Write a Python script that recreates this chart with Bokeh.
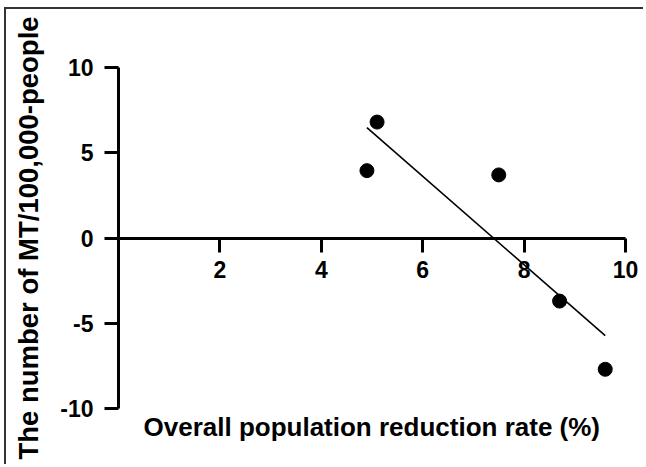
import numpy as np
from bokeh.plotting import figure
from bokeh.models import Range1d, FixedTicker, Title
from bokeh.embed import file_html
from bokeh.resources import INLINE

# Data
reduction_rate = [4.9, 5.1, 7.5, 8.7, 9.6]
mt_per_100k = [3.95, 6.8, 3.7, -3.7, -7.7]
x_ticks = [2, 4, 6, 8, 10]
y_ticks = [-10, -5, 0, 5, 10]
y_tick_labels = ["-10", "-5", "0", "5", "10"]
x_title = "Overall population reduction rate (%)"
y_title = "The number of MT/100,000-people"

FONT = "Liberation Sans"

p = figure(width=639, height=457, output_backend="svg", toolbar_location=None,
           x_range=Range1d(0, 10.335), y_range=Range1d(-10, 10),
           min_border_left=112, min_border_right=3, min_border_top=58, min_border_bottom=58)
p.styles = {"margin-left": "4px", "margin-top": "7px",
            "border-top": "2px solid #333", "border-left": "2px solid #333"}
p.grid.visible = False
p.outline_line_color = None
p.background_fill_color = "white"
p.border_fill_color = "white"

for ax in (p.xaxis[0], p.yaxis[0]):
    ax.axis_line_width = 3
    ax.axis_line_color = "black"
    ax.major_tick_line_width = 3
    ax.major_tick_line_color = "black"
    ax.major_tick_out = 14
    ax.major_tick_in = 0
    ax.minor_tick_line_color = None
    ax.major_label_text_font = FONT
    ax.major_label_text_font_style = "bold"
    ax.major_label_text_font_size = "23px"
    ax.major_label_text_color = "black"

xa = p.xaxis[0]
xa.fixed_location = 0
xa.ticker = FixedTicker(ticks=x_ticks)
xa.bounds = (0, 10)
xa.major_label_standoff = 9

ya = p.yaxis[0]
ya.ticker = FixedTicker(ticks=y_ticks)
ya.major_label_overrides = {t: s for t, s in zip(y_ticks, y_tick_labels)}
ya.bounds = (-10, 10)
ya.major_label_standoff = 11
ya.axis_label = y_title
ya.axis_label_text_font = FONT
ya.axis_label_text_font_style = "bold"
ya.axis_label_text_font_size = "27.5px"
ya.axis_label_text_color = "black"
ya.axis_label_standoff = 13

# x title under the frame
p.add_layout(Title(text=x_title, align="left", offset=25, standoff=3,
                   text_font=FONT, text_font_style="bold", text_font_size="26px",
                   text_color="black"), "below")

# regression line
slope, intercept = np.polyfit(reduction_rate, mt_per_100k, 1)
xl = np.array([min(reduction_rate), max(reduction_rate)])
p.line(xl, slope * xl + intercept, line_color="black", line_width=1.6)

p.scatter(reduction_rate, mt_per_100k, size=14, fill_color="black", line_color="black")

open("out.html", "w").write(file_html(p, INLINE))
